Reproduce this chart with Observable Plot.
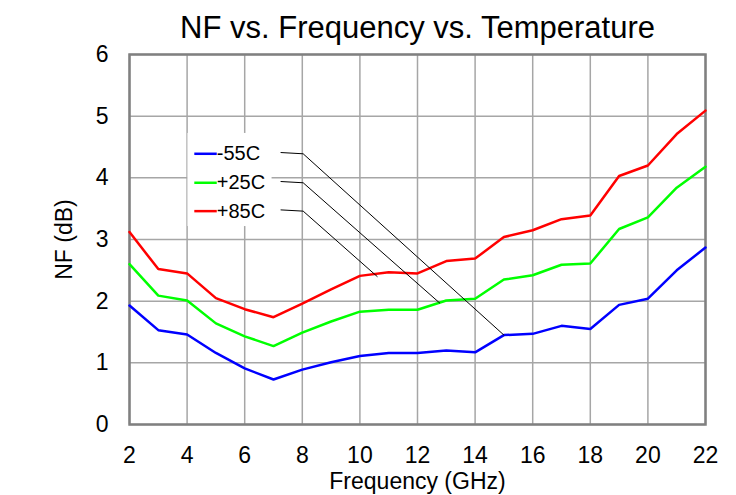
<!DOCTYPE html>
<html><head><meta charset="utf-8">
<script src="https://cdn.jsdelivr.net/npm/d3@7"></script>
<script src="https://cdn.jsdelivr.net/npm/@observablehq/plot@0.6"></script>
<style>body{margin:0;background:#fff;} svg{display:block;}</style>
</head><body><div id="chart"></div>
<script>
const freq = [2,3,4,5,6,7,8,9,10,11,12,13,14,15,16,17,18,19,20,21,22];
const nfM55 = [1.93,1.53,1.46,1.16,0.91,0.73,0.89,1.01,1.11,1.16,1.16,1.20,1.17,1.45,1.47,1.60,1.55,1.94,2.04,2.50,2.87];
const nfP25 = [2.60,2.09,2.01,1.64,1.43,1.27,1.49,1.67,1.83,1.86,1.86,2.01,2.04,2.35,2.42,2.59,2.61,3.17,3.36,3.84,4.18];
const nfP85 = [3.12,2.52,2.45,2.05,1.87,1.74,1.96,2.19,2.41,2.47,2.45,2.65,2.69,3.04,3.15,3.33,3.39,4.03,4.20,4.71,5.09];
const seriesNames = ["-55C","+25C","+85C"];
const seriesColors = ["#0000ff","#00ff00","#ff0000"];
const xTicks = [2,4,6,8,10,12,14,16,18,20,22];
const yTicks = [0,1,2,3,4,5,6];
const title = "NF vs. Frequency vs. Temperature";
// legend placement (data coords)
const legendY = [4.39,3.92,3.46];
// leader line endpoints (data coords)
const leaderEnd = [[15,1.45],[12.77,1.97],[10.6,2.40]];

const allSeries = [nfM55,nfP25,nfP85];
const rows = [];
allSeries.forEach((vals,i)=>vals.forEach((v,j)=>rows.push({f:freq[j],nf:v,s:seriesNames[i]})));

const legendRows = seriesNames.map((s,i)=>({s, y:legendY[i], ex:leaderEnd[i][0], ey:leaderEnd[i][1]}));
const leaderRows = [];
legendRows.forEach(d=>{
  leaderRows.push({s:d.s, x:7.26, y:d.y+0.02});
  leaderRows.push({s:d.s, x:8.03, y:d.y});
  leaderRows.push({s:d.s, x:d.ex, y:d.ey});
});

const font = "Liberation Sans, Arial, sans-serif";
const chart = Plot.plot({
  width:736, height:495,
  marginLeft:129, marginRight:31, marginTop:54, marginBottom:71,
  style:{fontFamily:font, fontSize:"23px", color:"#000", background:"#fff"},
  x:{domain:[2,22], ticks:xTicks},
  y:{domain:[0,6], ticks:yTicks},
  color:{domain:seriesNames, range:seriesColors},
  marks:[
    Plot.gridX(xTicks,{stroke:"#a6a6a6", strokeOpacity:1, strokeWidth:1.5}),
    Plot.gridY(yTicks,{stroke:"#a6a6a6", strokeOpacity:1, strokeWidth:1.5}),
    Plot.rect([{x1:4.03,x2:6.95,y1:3.21,y2:4.72}],{x1:"x1",x2:"x2",y1:"y1",y2:"y2",fill:"#fff"}),
    Plot.frame({stroke:"#808080", strokeWidth:2.5}),
    Plot.axisX(xTicks,{tickSize:0, tickPadding:22, fontSize:23, tickFormat:d3.format("d"), label:"Frequency (GHz)", labelAnchor:"center", labelArrow:"none", labelOffset:64}),
    Plot.axisY(yTicks,{tickSize:0, tickPadding:21, fontSize:23, tickFormat:d3.format("d"), label:"NF (dB)", labelAnchor:"center", labelArrow:"none", labelOffset:74}),
    Plot.line(rows,{x:"f", y:"nf", z:"s", stroke:"s", strokeWidth:2.5, strokeLinejoin:"miter"}),
    Plot.line(leaderRows,{x:"x", y:"y", z:"s", stroke:"#000", strokeWidth:1}),
    Plot.link(legendRows,{x1:()=>4.25, x2:()=>5.03, y1:"y", y2:"y", stroke:"s", strokeWidth:2.5}),
    Plot.text(legendRows,{x:()=>5.03, y:"y", text:"s", textAnchor:"start", fontSize:20, fill:"#000"}),
    Plot.text([title],{frameAnchor:"top", dy:-39, fontSize:31, fill:"#000"})
  ]
});
document.getElementById("chart").appendChild(chart);
</script>
</body></html>
